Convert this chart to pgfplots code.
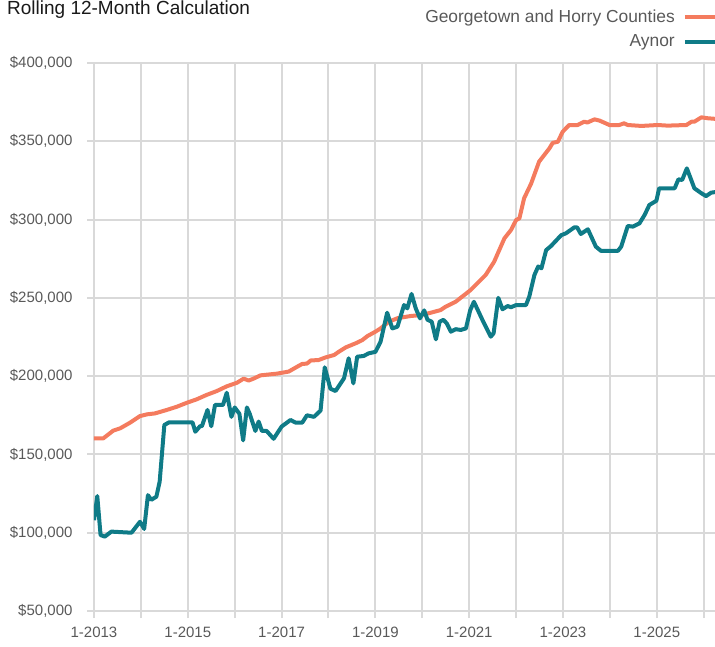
\documentclass[border=0pt]{standalone}
\usepackage{pgfplots}
\pgfplotsset{compat=1.18}
\usepackage{fontspec}
\setmainfont{Liberation Sans}

\definecolor{horry}{HTML}{F47B5E}
\definecolor{aynor}{HTML}{0F7B87}
\definecolor{gridc}{HTML}{D9D9D9}
\definecolor{labc}{HTML}{595959}

\pgfplotstableread{
t v
2013.00 160300
2013.20 160300
2013.41 165200
2013.56 166700
2013.77 170300
2013.98 174500
2014.13 175600
2014.30 176200
2014.55 178400
2014.77 180500
2014.98 183000
2015.19 185200
2015.40 188000
2015.62 190500
2015.83 193500
2016.05 195800
2016.19 198400
2016.30 197200
2016.40 198400
2016.55 200500
2016.90 201600
2017.15 202900
2017.33 206000
2017.44 207800
2017.54 208000
2017.62 210000
2017.79 210300
2017.94 212000
2018.12 213500
2018.22 215600
2018.37 218400
2018.58 221000
2018.72 223000
2018.83 225600
2019.00 228400
2019.11 230500
2019.29 234800
2019.47 237000
2019.75 238400
2019.97 239000
2020.18 240500
2020.39 242200
2020.50 244400
2020.71 247500
2020.89 251700
2021.03 255000
2021.35 264600
2021.53 273000
2021.75 288000
2021.89 293300
2022.00 299700
2022.07 300800
2022.17 313600
2022.32 323000
2022.49 337000
2022.71 345500
2022.78 349000
2022.89 349700
2022.99 356000
2023.13 360400
2023.31 360400
2023.45 362500
2023.52 362000
2023.67 364000
2023.78 363200
2023.99 360400
2024.20 360400
2024.30 361500
2024.38 360400
2024.67 359800
2025.02 360400
2025.23 360000
2025.63 360400
2025.74 362500
2025.80 362500
2025.95 365300
2026.09 364700
2026.30 364200
}\horrytab

\pgfplotstableread{
t v
2013.00 108000
2013.07 123400
2013.14 98500
2013.23 97500
2013.37 100700
2013.80 100000
2013.98 107000
2014.07 102400
2014.15 124000
2014.22 121000
2014.33 123000
2014.40 132600
2014.50 168800
2014.60 170500
2015.10 170500
2015.16 164500
2015.26 168000
2015.30 168000
2015.42 178400
2015.50 168000
2015.58 181600
2015.75 181600
2015.83 189400
2015.93 174000
2016.00 180000
2016.10 176000
2016.18 159000
2016.26 180000
2016.32 176000
2016.44 165000
2016.51 171000
2016.58 165000
2016.68 165000
2016.83 160000
2017.00 167800
2017.19 172000
2017.30 170300
2017.44 170300
2017.54 175000
2017.69 174000
2017.83 178000
2017.92 205600
2018.04 192000
2018.15 190500
2018.33 198600
2018.43 211400
2018.53 195400
2018.61 212400
2018.75 212900
2018.86 214600
2019.00 215500
2019.11 222000
2019.25 240500
2019.36 230500
2019.47 231600
2019.61 245400
2019.68 243300
2019.77 252500
2019.86 243300
2019.95 236900
2020.04 242000
2020.11 236000
2020.20 234800
2020.29 223500
2020.37 234800
2020.45 236000
2020.52 233700
2020.61 228400
2020.71 230000
2020.82 229500
2020.93 230500
2021.02 242000
2021.10 247500
2021.28 236000
2021.46 225200
2021.52 227400
2021.62 250000
2021.71 242700
2021.82 244800
2021.89 244000
2022.00 245400
2022.21 245400
2022.28 250800
2022.39 264600
2022.47 270000
2022.54 268900
2022.64 280500
2022.74 283000
2022.96 290000
2023.06 291200
2023.24 295000
2023.30 295000
2023.38 290800
2023.53 293800
2023.70 282700
2023.81 280000
2024.17 280000
2024.24 282700
2024.38 295900
2024.49 295500
2024.63 297600
2024.74 303000
2024.84 309300
2024.99 312000
2025.05 320000
2025.38 320000
2025.46 325700
2025.54 325300
2025.64 332700
2025.80 320000
2025.95 316800
2026.05 315000
2026.16 317200
2026.30 317800
}\aynortab

\begin{document}
\begin{tikzpicture}
\begin{axis}[
    scale only axis,
    width=621pt, height=548pt,
    xmin=2013, xmax=2026.24,
    ymin=50000, ymax=400000,
    axis line style={draw=none},
    tick pos=left,
    tick align=outside,
    major tick length=7pt,
    tick style={gridc, line width=2pt},
    grid=major,
    major grid style={gridc, line width=2pt},
    xtick={2013,...,2026},
    xticklabels={1-2013,,1-2015,,1-2017,,1-2019,,1-2021,,1-2023,,1-2025,},
    ytick={50000,100000,...,400000},
    scaled y ticks=false,
    /pgf/number format/assume math mode=true,
    yticklabel={\$\pgfmathprintnumber[fixed,precision=0,1000 sep={,}]{\tick}},
    ticklabel style={font=\fontsize{15}{18}\selectfont, text=labc},
    yticklabel style={xshift=-11pt},
    xticklabel style={yshift=-5pt},
    legend plot pos=right,
    legend cell align=right,
    legend image code/.code={\draw[#1] (0pt,0pt) -- (30pt,0pt);},
    legend style={at={(1.0032,1.101)}, anchor=north east, draw=none, fill=none,
        font=\fontsize{17.4}{20}\selectfont, text=labc, row sep=7pt, column sep=6pt,
        inner sep=0pt},
]
\addplot[horry, line width=4pt, line join=round] table[x=t, y=v] {\horrytab};
\addlegendentry{Georgetown and Horry Counties}
\addplot[aynor, line width=4pt, line join=round] table[x=t, y=v] {\aynortab};
\addlegendentry{Aynor}
\end{axis}
\node[anchor=base west, inner sep=0pt, font=\fontsize{19}{22}\selectfont, text=black!90]
    at (-87pt,596pt) {Rolling 12-Month Calculation};
\pgfresetboundingbox
\useasboundingbox (-94pt,-35pt) rectangle (621pt,611pt);
\end{tikzpicture}
\end{document}
